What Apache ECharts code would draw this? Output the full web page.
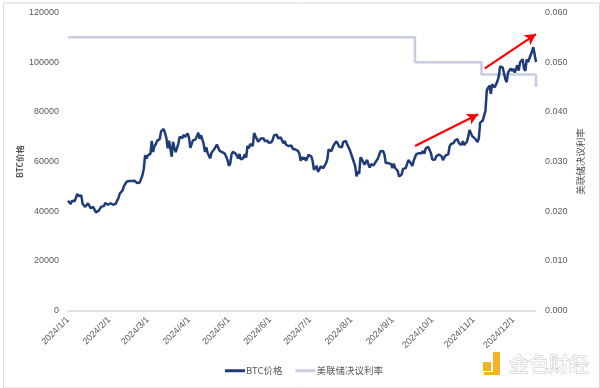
<!DOCTYPE html>
<html>
<head>
<meta charset="utf-8">
<script src="https://cdn.jsdelivr.net/npm/echarts@6/dist/echarts.min.js"></script>
<style>html,body{margin:0;padding:0;background:#fff}#c{width:600px;height:388px}</style>
</head>
<body>
<div id="c"></div>
<script>
// BTC daily close (USD), 2024
var btcJan = [44180,44950,42850,44180,44160,43970,43930,46970,46110,46630,46340,42890,42850,41730,42510,43150,42740,41260,41620,41660,41580,39510,39840,40080,39940,41820,42120,42030,43300,42950,42580];
var btcFeb = [43080,43190,42990,42580,42660,43080,44320,45300,47150,47770,48290,50000,49740,51830,51940,52160,51660,52120,51780,52280,51840,51300,50730,51570,51730,54480,57090,62500,61200];
var btcMar = [62440,62030,63170,68330,63800,66110,66930,68300,68500,69020,72120,71480,73080,71400,69400,65320,68390,67610,61930,67910,65490,63780,64060,67230,69960,69990,69460,70740,69900,69650,71290];
var btcApr = [69650,65480,65960,68510,67840,68900,69360,71620,69140,70590,70060,67190,63820,65740,63430,63810,61280,63510,63840,64990,64940,66840,66410,64290,64500,63760,63420,63120,63840,60640];
var btcMay = [58250,59120,62890,63890,64030,63160,62330,61190,63050,60790,60790,61450,62900,61550,66270,65230,67050,66940,66280,71450,70140,69120,67930,68530,69270,68510,69390,68300,67590,68360,67490];
var btcJun = [67710,67750,68800,70570,71080,70760,69340,69300,69640,69510,67320,68240,66750,66010,66190,66640,66490,65150,64960,64830,64100,64250,63180,60280,61800,60860,61670,60320,60890,62680];
var btcJul = [62850,62030,60170,56660,56660,58230,55850,56700,58050,57730,57340,57900,59230,60790,64870,65100,64090,63970,66710,67160,68190,67550,65930,65370,65780,67910,68250,68250,66780,66190,64620];
var btcAug = [65360,61410,60680,58120,53990,56030,55030,61710,60880,60950,58710,59350,60610,58740,57560,58880,59480,58480,59490,59010,61160,60380,64090,64180,64220,62830,59420,59030,59370,59120,58970];
var btcSep = [57330,59130,57490,57970,56160,53950,54140,54840,57020,57650,57340,58130,60570,60010,59180,58210,60310,61760,62950,63190,63350,63580,63340,64260,63140,65180,65790,65890,65600,63330];
var btcOct = [60840,60630,60750,62090,62060,62820,62220,62130,60580,60270,62450,63190,62850,66080,67040,67610,67400,68420,68360,69000,67370,67380,66680,68180,66620,67010,67930,69910,72720,72340,70220];
var btcNov = [69480,69310,68740,67810,69360,75640,75900,76540,76700,80470,88700,87960,90580,87250,91070,90610,89850,90460,92310,94290,98320,98980,97780,98010,93010,91970,95860,95640,97460,96450];
var btcDec = [97280,95860,96000,98770,96590,99920,99920,101170,97370,96490,101130,100000,101460,101370,104300,106030,106140,100040];

// Fed funds decision rate (upper bound), change dates
var rateDates = ['2024-01-01','2024-09-18','2024-11-07','2024-12-18'];
var rateValues = [0.055, 0.050, 0.0475, 0.045];

// Annotation arrows (start/end in data coordinates)
var arrowStartDates = ['2024-09-18','2024-11-09 12:00'];
var arrowStartValues = [66200, 97500];
var arrowEndDates = ['2024-11-04 12:00','2024-12-18'];
var arrowEndValues = [79000, 111300];

function ts(s){
  var p = s.split(' ');
  var d = p[0].split('-');
  var h = p[1] ? +p[1].split(':')[0] : 0;
  return new Date(+d[0], +d[1]-1, +d[2], h).getTime();
}
var months = [btcJan,btcFeb,btcMar,btcApr,btcMay,btcJun,btcJul,btcAug,btcSep,btcOct,btcNov,btcDec];
var btcData = [];
months.forEach(function(arr, m){
  arr.forEach(function(v, i){ btcData.push([new Date(2024, m, i+1).getTime(), v]); });
});
var rateData = rateDates.map(function(d,i){ return [ts(d), rateValues[i]]; });
var arrows = arrowStartDates.map(function(d,i){
  return [{coord:[ts(d), arrowStartValues[i]]},{coord:[ts(arrowEndDates[i]), arrowEndValues[i]]}];
});

var chart = echarts.init(document.getElementById('c'), null, {renderer:'canvas'});
var lab = {color:'#595959', fontSize:9, fontFamily:'"Liberation Sans", Arial, sans-serif'};
chart.setOption({
  animation:false,
  backgroundColor:'#fff',
  grid:{left:68, right:64, top:12.5, bottom:77.5, containLabel:false},
  legend:{
    left:220, top:361, itemWidth:20, itemHeight:3, itemGap:13, icon:'rect',
    textStyle:{color:'#595959', fontSize:9.5, fontFamily:'"Noto Sans CJK SC", sans-serif', padding:[0,0,0,-4]},
    data:['BTC价格','美联储决议利率']
  },
  xAxis:{
    type:'time', min:ts('2024-01-01'), max:ts('2024-12-18'),
    splitNumber:12, maxInterval:31*86400000, minInterval:28*86400000,
    axisLine:{show:true, lineStyle:{color:'#D9D9D9', width:1.5}},
    axisTick:{show:false}, splitLine:{show:false},
    axisLabel:Object.assign({rotate:45, margin:8, formatter:'{yyyy}/{M}/{d}', hideOverlap:false}, lab)
  },
  yAxis:[{
    type:'value', min:0, max:120000, interval:20000,
    name:'BTC价格', nameLocation:'middle', nameRotate:90, nameGap:44, nameMoveOverlap:false,
    nameTextStyle:{color:'#595959', fontSize:8.5, fontWeight:'bold', fontFamily:'"Noto Sans CJK SC", sans-serif'},
    axisLine:{show:false}, axisTick:{show:false}, splitLine:{show:false},
    axisLabel:Object.assign({margin:9, formatter:function(v){return String(v);}}, lab)
  },{
    type:'value', min:0, max:0.06, interval:0.01, position:'right',
    name:'美联储决议利率', nameLocation:'middle', nameRotate:90, nameGap:40, nameMoveOverlap:false,
    nameTextStyle:{color:'#595959', fontSize:9.5, fontFamily:'"Noto Sans CJK SC", sans-serif'},
    axisLine:{show:false}, axisTick:{show:false}, splitLine:{show:false},
    axisLabel:Object.assign({margin:9, formatter:function(v){return v.toFixed(3);}}, lab)
  }],
  series:[{
    name:'美联储决议利率', type:'line', yAxisIndex:1, step:'end', showSymbol:false,
    data:rateData, lineStyle:{color:'#C7CCE2', width:2.5}, itemStyle:{color:'#C7CCE2'}, z:1
  },{
    name:'BTC价格', type:'line', yAxisIndex:0, showSymbol:false, clip:false,
    data:btcData, lineStyle:{color:'#1F3B78', width:2.5}, itemStyle:{color:'#1F3B78'}, z:3,
    markLine:{
      silent:true, symbol:['none','arrow'], symbolSize:[9,11], animation:false,
      label:{show:false}, lineStyle:{color:'#FF0000', width:2.2, type:'solid'},
      emphasis:{disabled:true},
      data:arrows
    }
  }],
  graphic:[
    {type:'rect', left:1, top:0.5, shape:{x:0,y:0,width:596,height:385}, style:{fill:'none', stroke:'#D9D9D9', lineWidth:1}, silent:true, z:-1},
    {type:'rect', shape:{x:483,y:362,width:8,height:9}, style:{fill:'#F5B227'}, silent:true},
    {type:'rect', shape:{x:493,y:352,width:7,height:23}, style:{fill:'#F5B227'}, silent:true},
    {type:'rect', shape:{x:484,y:372,width:16,height:3}, style:{fill:'#F5B227'}, silent:true},
    {type:'text', x:509, y:354, style:{text:'金色财经', fill:'#FFFFFF', stroke:'#C4C4C4', lineWidth:1, font:'20px "Noto Sans CJK SC", sans-serif'}, silent:true}
  ]
});
</script>
</body>
</html>
